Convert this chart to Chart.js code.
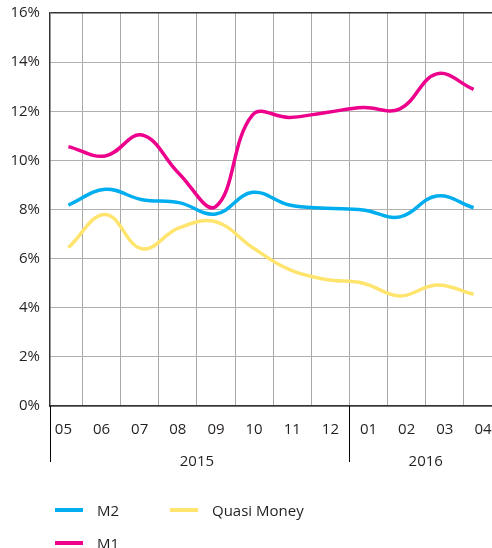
<!DOCTYPE html>
<html>
<head>
<meta charset="utf-8">
<script src="https://cdn.jsdelivr.net/npm/chart.js@4.4.1/dist/chart.umd.min.js"></script>
<style>
  body { margin: 0; background: #fff; font-family: "Open Sans", sans-serif; }
  #wrap { position: relative; width: 492px; height: 548px; overflow: hidden; }
  #moneyChart { position: absolute; left: 0; top: 0; }
  #legend { position: absolute; left: 55px; top: 493px; width: 240px; display: flex; flex-wrap: wrap; }
  .item { width: 115px; height: 33px; display: flex; align-items: center; font-size: 15px; color: #231f20; white-space: nowrap; }
  .swatch { flex: none; width: 28px; height: 4px; margin-right: 14px; }
</style>
</head>
<body>
<div id="wrap">
  <canvas id="moneyChart" width="492" height="548"></canvas>
  <div id="legend"></div>
</div>
<script>
// Money supply growth (% yoy), May 2015 – Apr 2016

const months = ["05", "06", "07", "08", "09", "10", "11", "12", "01", "02", "03", "04"];
const years = [
  { label: "2015", from: 0, to: 7 },
  { label: "2016", from: 8, to: 11 },
];
const m2 = [8.18, 8.82, 8.4, 8.28, 7.82, 8.7, 8.18, 8.05, 7.98, 7.7, 8.55, 8.07];
const quasiMoney = [6.45, 7.8, 6.4, 7.25, 7.5, 6.45, 5.55, 5.15, 5.0, 4.48, 4.93, 4.55];
const m1 = [10.56, 10.18, 11.03, 9.47, 8.12, 11.85, 11.75, 11.95, 12.15, 12.1, 13.52, 12.89];
const yTicks = [0, 2, 4, 6, 8, 10, 12, 14, 16];

const textColor = "#231f20";
const axisColor = "#333333";

// labels may overhang the plot edges, like the original
function noPadding(axis) {
  axis.paddingTop = 0;
  axis.paddingBottom = 0;
  axis.paddingLeft = 0;
  axis.paddingRight = 0;
}

// ── Year row under the month labels ───────────────────────
const yearRow = {
  id: "yearRow",
  afterDraw(chart) {
    const ctx = chart.ctx;
    const xs = chart.scales.x;
    const bottom = chart.chartArea.bottom;
    ctx.save();
    ctx.strokeStyle = "#000";
    ctx.lineWidth = 1;
    ctx.beginPath();
    ctx.moveTo(Math.round(chart.chartArea.left) + 0.5, bottom);
    ctx.lineTo(Math.round(chart.chartArea.left) + 0.5, bottom + 56);
    years.forEach((y, i) => {
      if (i === 0) return;
      const px = Math.round(xs.getPixelForValue(y.from - 0.5)) + 0.5;
      ctx.moveTo(px, bottom);
      ctx.lineTo(px, bottom + 56);
    });
    ctx.stroke();
    ctx.fillStyle = textColor;
    ctx.font = '15px "Open Sans"';
    ctx.textAlign = "center";
    ctx.textBaseline = "middle";
    years.forEach((y) => {
      const px = xs.getPixelForValue((y.from + y.to) / 2);
      ctx.fillText(y.label, px, bottom + 56);
    });
    ctx.restore();
  },
};

const datasets = [
  { label: "M2", data: m2, borderColor: "#00aeef" },
  { label: "Quasi Money", data: quasiMoney, borderColor: "#ffe46e" },
  { label: "M1", data: m1, borderColor: "#ec008c" },
].map((d) => ({
  ...d,
  xAxisID: "xd",
  borderWidth: 3.5,
  pointRadius: 0,
  tension: 0.4,
  fill: false,
}));

new Chart(document.getElementById("moneyChart"), {
  type: "line",
  data: { labels: months, datasets: datasets },
  options: {
    responsive: false,
    animation: false,
    layout: { padding: { top: 13, right: 0, bottom: 0, left: 0 } },
    plugins: { legend: { display: false }, tooltip: { enabled: false } },
    scales: {
      xd: { type: "category", offset: true, display: false },
      x: {
        type: "linear",
        position: "bottom",
        min: -0.351,
        max: 11.237,
        afterBuildTicks: (axis) => {
          axis.ticks = months.map((_, i) => ({ value: i }));
        },
        afterFit: (axis) => {
          axis.height = 142;
          noPadding(axis);
        },
        grid: { offset: true, color: "#a8a8a8", lineWidth: 1, drawTicks: false },
        border: { color: axisColor, width: 1.5 },
        ticks: {
          autoSkip: false,
          maxRotation: 0,
          padding: 15,
          color: textColor,
          font: { family: "Open Sans", size: 15 },
          callback: (v) => months[v],
        },
      },
      y: {
        min: 0,
        max: 16,
        afterBuildTicks: (axis) => {
          axis.ticks = yTicks.map((v) => ({ value: v }));
        },
        afterFit: (axis) => {
          axis.width = 50;
          noPadding(axis);
        },
        grid: {
          drawTicks: false,
          lineWidth: (c) => (c.tick && c.tick.value === 16 ? 1.5 : 1),
          color: (c) => (c.tick && c.tick.value === 16 ? axisColor : "#b0b0b0"),
        },
        border: { color: axisColor, width: 1.5 },
        ticks: {
          padding: 10,
          color: textColor,
          font: { family: "Open Sans", size: 15 },
          callback: (v) => v + "%",
        },
      },
    },
  },
  plugins: [yearRow],
});

// ── HTML legend ───────────────────────────────────────────
const legend = document.getElementById("legend");
datasets.forEach((d) => {
  const item = document.createElement("div");
  item.className = "item";
  const sw = document.createElement("span");
  sw.className = "swatch";
  sw.style.background = d.borderColor;
  item.appendChild(sw);
  item.appendChild(document.createTextNode(d.label));
  legend.appendChild(item);
});
</script>
</body>
</html>
